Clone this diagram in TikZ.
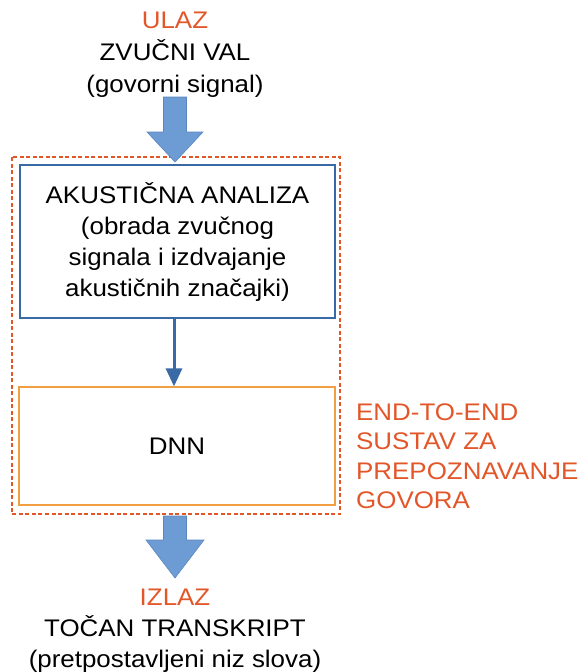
\documentclass[tikz,border=0pt]{standalone}
\usepackage{fontspec}
\setmainfont[FakeStretch=1.08]{Liberation Sans}
\usetikzlibrary{positioning,arrows.meta}
\definecolor{ulazred}{HTML}{E2572A}
\definecolor{arrowblue}{HTML}{6D9BD3}
\definecolor{arrowedge}{HTML}{5A86BE}
\definecolor{boxblue}{HTML}{3A6AA6}
\definecolor{dnnorange}{HTML}{F0A040}
\tikzset{
    txt/.style={font=\fontsize{24}{31}\selectfont, align=center, inner sep=0pt},
    stagebox/.style={draw, rectangle, inner sep=0pt, font=\fontsize{24}{31}\selectfont, align=center},
    bigarrow/.style={fill=arrowblue, draw=arrowedge, line width=0.6pt}
}
\begin{document}
\begin{tikzpicture}[x=1pt,y=-1pt]
    \useasboundingbox (0,0) rectangle (588,672);

    % Input
    \node[txt, font=\fontsize{24}{32}\selectfont] (ulaz) at (175,55) {\textcolor{ulazred}{ULAZ}\\ZVUČNI VAL\\(govorni signal)};

    % End-to-end system (dashed frame)
    \draw[ulazred, dash pattern=on 4pt off 2.5pt, line width=1.6pt] (12,157) rectangle (340,514);
    \node[txt, anchor=west, align=left, text=ulazred, font=\fontsize{24}{29.5}\selectfont] (sustav) at (356,456)
        {END-TO-END\\SUSTAV ZA\\PREPOZNAVANJE\\GOVORA};

    % Stages
    \node[stagebox, draw=boxblue, line width=1.8pt, minimum width=315pt, minimum height=153pt] (analiza) at (177.5,241.5)
        {AKUSTIČNA ANALIZA\\(obrada zvučnog\\signala i izdvajanje\\akustičnih značajki)};
    \node[stagebox, draw=dnnorange, line width=1.2pt, minimum width=316pt, minimum height=118pt] (dnn) at (177,446) {DNN};

    \draw[boxblue, line width=3pt, -{Triangle[length=18pt,width=16pt]}] (analiza.south -| 174,0) -- (dnn.north -| 174,0);

    % Big arrows in and out
    \draw[bigarrow] (163.5,97) -- (186.5,97) -- (186.5,132) -- (203,132) -- (175,162)
        -- (147,132) -- (163.5,132) -- cycle;
    \draw[bigarrow] (163.5,516) -- (186.5,516) -- (186.5,540) -- (204,540) -- (175,578)
        -- (146,540) -- (163.5,540) -- cycle;

    % Output
    \node[txt] (izlaz) at (175,631) {\textcolor{ulazred}{IZLAZ}\\TOČAN TRANSKRIPT\\(pretpostavljeni niz slova)};
\end{tikzpicture}
\end{document}
